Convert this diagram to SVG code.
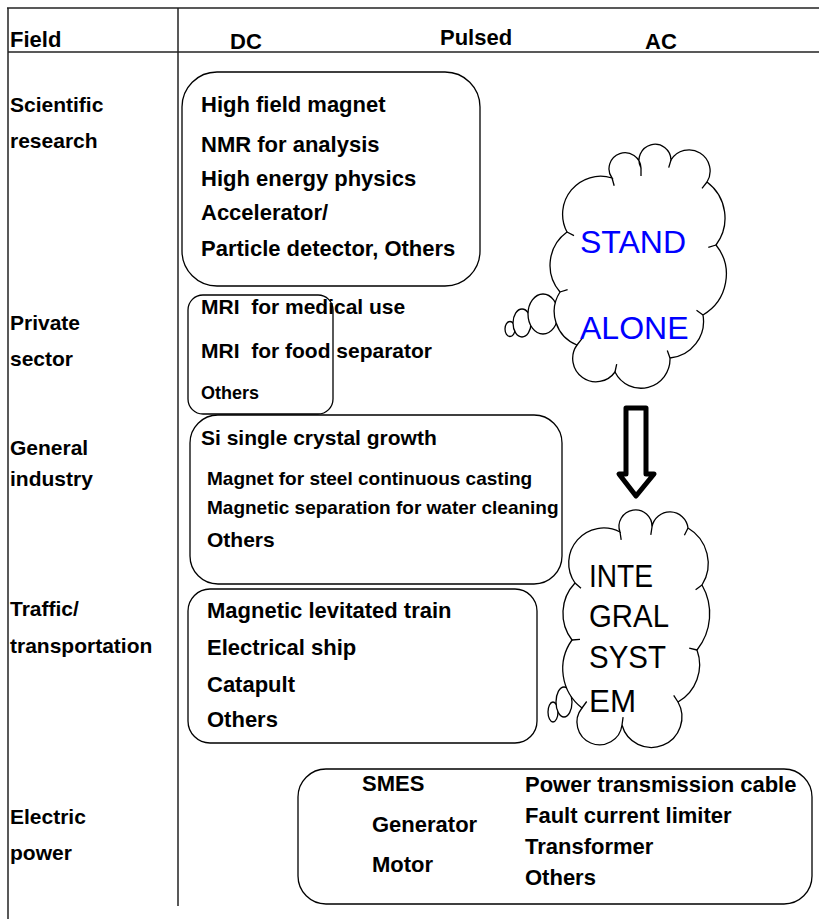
<svg xmlns="http://www.w3.org/2000/svg" width="819" height="919" viewBox="0 0 819 919">
<style>
text{font-family:"Liberation Sans",Arial,sans-serif;font-weight:bold;fill:#000}
.h{font-size:22px}
.r{font-size:21px}
.t22{font-size:22px}
.t21{font-size:21px}
.t19{font-size:19px}
.t18{font-size:18px}
.box{fill:none;stroke:#000;stroke-width:1.3}
.grid{stroke:#222;stroke-width:1.5;fill:none}
.cloud{fill:#fff;stroke:#000;stroke-width:1.3}
.big{font-weight:normal;font-size:32px}
</style>
<g id="table" class="grid">
<line x1="7" y1="8" x2="819" y2="8"/>
<line x1="8" y1="8" x2="8" y2="919"/>
<line x1="8" y1="52" x2="819" y2="52"/>
<line x1="178" y1="8" x2="178" y2="906"/>
</g>
<g id="header">
<text class="h" x="10" y="47">Field</text>
<text class="h" x="230" y="49">DC</text>
<text class="h" x="440" y="45">Pulsed</text>
<text class="h" x="645" y="49">AC</text>
</g>
<g id="rows">
<text class="r" x="10" y="112">Scientific</text>
<text class="r" x="10" y="148">research</text>
<text class="r" x="10" y="330">Private</text>
<text class="r" x="10" y="366">sector</text>
<text class="r" x="10" y="455">General</text>
<text class="r" x="10" y="486">industry</text>
<text class="r" x="10" y="616">Traffic/</text>
<text class="r" x="10" y="653">transportation</text>
<text class="r" x="10" y="824">Electric</text>
<text class="r" x="10" y="860">power</text>
</g>
<g id="scientific">
<rect class="box" x="182" y="72" width="298" height="214" rx="35"/>
<text class="t22" x="201" y="112">High field magnet</text>
<text class="t22" x="201" y="152">NMR for analysis</text>
<text class="t22" x="201" y="186">High energy physics</text>
<text class="t22" x="201" y="220">Accelerator/</text>
<text class="t22" x="201" y="256">Particle detector, Others</text>
</g>
<g id="private">
<rect class="box" x="188" y="295" width="145" height="119" rx="15"/>
<text class="t21" x="201" y="314" xml:space="preserve">MRI  for medical use</text>
<text class="t21" x="201" y="358" xml:space="preserve">MRI  for food separator</text>
<text class="t18" x="201" y="399">Others</text>
</g>
<g id="industry">
<rect class="box" x="190" y="415" width="372" height="169" rx="28"/>
<text class="t21" x="201" y="445">Si single crystal growth</text>
<text class="t19" x="207" y="485">Magnet for steel continuous casting</text>
<text class="t19" x="207" y="514">Magnetic separation for water cleaning</text>
<text class="t21" x="207" y="547">Others</text>
</g>
<g id="traffic">
<rect class="box" x="188" y="589" width="349" height="154" rx="22"/>
<text class="t22" x="207" y="618">Magnetic levitated train</text>
<text class="t22" x="207" y="655">Electrical ship</text>
<text class="t22" x="207" y="692">Catapult</text>
<text class="t22" x="207" y="727">Others</text>
</g>
<g id="power">
<rect class="box" x="298" y="769" width="514" height="135" rx="28"/>
<text class="t22" x="362" y="791">SMES</text>
<text class="t22" x="372" y="832">Generator</text>
<text class="t22" x="372" y="872">Motor</text>
<text class="t22" x="525" y="792">Power transmission cable</text>
<text class="t22" x="525" y="823">Fault current limiter</text>
<text class="t22" x="525" y="854">Transformer</text>
<text class="t22" x="525" y="885">Others</text>
</g>
<g id="standalone">
<ellipse class="cloud" cx="510" cy="329" rx="5" ry="7.5"/>
<ellipse class="cloud" cx="522" cy="323" rx="9" ry="14"/>
<ellipse class="cloud" cx="543" cy="314" rx="15" ry="20"/>
<path class="cloud" d="M567,232 A38,38 0 0 1 612,178 A16,16 0 1 1 641,168 A16,16 0 1 1 671,160 A21,21 0 1 1 707,182 A45,45 0 0 1 716,245 A47,47 0 0 1 703,315 A37,37 0 0 1 670,358 A29,29 0 0 1 615,372 A23,23 0 0 1 577,345 A36,36 0 0 1 560,292 A41,41 0 0 1 567,232 Z"/>
<path fill="none" stroke="#000" stroke-width="1.3" d="M567,232 l7,3.6 M612,178 l2.2,7.7 M641,168 l0,8 M671,160 l-2.3,7.6 M707,182 l-5,6.3 M716,245 l-7.7,2.3 M703,315 l-6.5,-4.7 M670,358 l-2.7,-7.5 M615,372 l1.7,-7.8 M577,345 l5,-6.3 M560,292 l7.6,-2.4"/>
<text class="big" x="580" y="253" fill="#0000ff" style="fill:#0000ff">STAND</text>
<text class="big" x="580" y="339" fill="#0000ff" style="fill:#0000ff">ALONE</text>
</g>
<g id="connectors">
<path d="M626,408 H646 V474 H654 L636,496 L619,474 H626 Z" fill="#fff" stroke="#000" stroke-width="5" stroke-linejoin="round"/>
</g>
<g id="integral">
<ellipse class="cloud" cx="553" cy="712" rx="5" ry="10"/>
<ellipse class="cloud" cx="564" cy="702" rx="8" ry="15"/>
<path class="cloud" d="M575,583 A35,35 0 0 1 620,532 A16.5,16.5 0 1 1 652,527 A18.2,18.2 0 0 1 688,528 A41,41 0 0 1 702,585 A58,58 0 0 1 697,650 A43,43 0 0 1 678,702 A30.5,30.5 0 1 1 622,725 A22.6,22.6 0 1 1 582,708 A49.5,49.5 0 0 1 572,640 A44,44 0 0 1 575,583 Z"/>
<path fill="none" stroke="#000" stroke-width="1.3" d="M575,583 l6,5.3 M620,532 l1.2,7.9 M652,527 l-1.2,7.9 M688,528 l-3.6,7.2 M702,585 l-6.4,4.8 M697,650 l-7.8,-1.9 M678,702 l-4.3,-6.7 M622,725 l1.1,-7.9 M582,708 l4.7,-6.5 M572,640 l8,-0.6"/>
<text class="big" x="589" y="587" textLength="64" lengthAdjust="spacingAndGlyphs">INTE</text>
<text class="big" x="589" y="627" textLength="80" lengthAdjust="spacingAndGlyphs">GRAL</text>
<text class="big" x="589" y="668" textLength="77" lengthAdjust="spacingAndGlyphs">SYST</text>
<text class="big" x="589" y="712" textLength="47" lengthAdjust="spacingAndGlyphs">EM</text>
</g>
</svg>
